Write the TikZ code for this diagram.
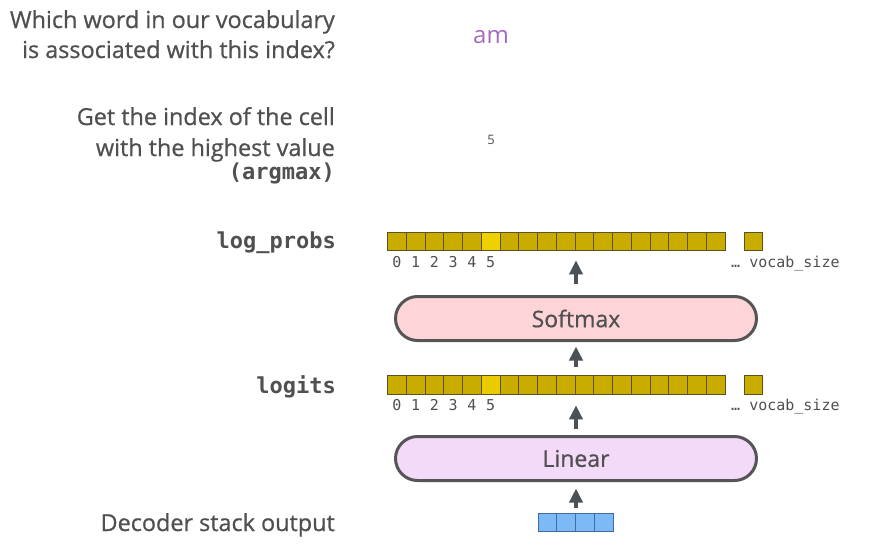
\documentclass[tikz,border=0pt]{standalone}
\usepackage{fontspec}
\setmainfont{Open Sans}
\newfontfamily\semib{Open Sans}[FakeBold=0.7]
\setmonofont{DejaVu Sans Mono}
\usetikzlibrary{arrows.meta}
\definecolor{txt}{HTML}{505050}
\definecolor{amc}{HTML}{A36AC4}
\definecolor{cellfill}{HTML}{C9AC00}
\definecolor{cellhi}{HTML}{EFD000}
\definecolor{cellline}{HTML}{5E5220}
\definecolor{bluefill}{HTML}{7DB9F4}
\definecolor{blueline}{HTML}{3F6E9E}
\definecolor{softfill}{HTML}{FDD5D9}
\definecolor{linfill}{HTML}{F2DAF8}
\definecolor{boxline}{HTML}{555555}
\definecolor{arrc}{HTML}{4B5157}
\tikzset{
  lbl/.style={inner sep=0pt, text=txt, font=\semib\fontsize{23.4}{27}\selectfont},
  monolbl/.style={inner sep=0pt, text=txt, font=\fontsize{22}{26}\selectfont\ttfamily\bfseries},
  digit/.style={inner sep=0pt, text=txt, font=\fontsize{15}{17}\selectfont\ttfamily, anchor=base},
  cell/.style={draw=cellline, fill=cellfill, line width=0.6pt, minimum width=18.75pt, minimum height=18.5pt, inner sep=0pt},
  bcell/.style={draw=blueline, fill=bluefill, line width=0.6pt, minimum width=18.75pt, minimum height=18pt, inner sep=0pt},
  layerbox/.style={draw=boxline, line width=3pt, rounded corners=22pt, minimum width=361pt, minimum height=44pt, inner sep=0pt, text=txt, font=\semib\fontsize{23}{27}\selectfont},
  arr/.style={draw=arrc, line width=4pt, -{Triangle[width=13pt,length=14pt]}}
}
\begin{document}
\begin{tikzpicture}[x=1pt,y=-1pt]
\useasboundingbox (0,0) rectangle (870,547);
\fill[white] (0,0) rectangle (870,547);
% left texts
\node[lbl, anchor=base east] (q1) at (335,28) {Which word in our vocabulary};
\node[lbl, anchor=base east] (q2) at (335,58) {is associated with this index?};
\node[lbl, anchor=base east] (g1) at (335,125) {Get the index of the cell};
\node[lbl, anchor=base east] (g2) at (335,156) {with the highest value};
\node[monolbl, anchor=base east] (g3) at (335,179) {(argmax)};
\node[monolbl, anchor=base east] (lpl) at (336,248) {log\_probs};
\node[monolbl, anchor=base east] (lgl) at (336,393) {logits};
\node[lbl, anchor=base east] (dso) at (335,531) {Decoder stack output};
% right column
\node[inner sep=0pt, text=amc, font=\fontsize{24}{28}\selectfont, anchor=base] (am) at (491,43) {am};
\node[inner sep=0pt, text=txt, font=\fontsize{13}{15}\selectfont, anchor=base] (five) at (491,144) {5};
% log_probs row
\foreach \i in {0,...,17} \node[cell] (lp\i) at ({387.5+18.75*(\i+0.5)},241.25) {};
\node[cell, fill=cellhi] at (lp5) {};
\node[cell] (lpN) at (753.25,241.25) {};
\foreach \i in {0,...,5} \node[digit] (lpd\i) at ({387.5+18.75*(\i+0.5)},267) {\i};
\node[digit, anchor=base west] (lpv) at (731,267) {… vocab\_size};
% logits row
\foreach \i in {0,...,17} \node[cell] (lg\i) at ({387.5+18.75*(\i+0.5)},384.75) {};
\node[cell, fill=cellhi!85!cellfill] at (lg5) {};
\node[cell] (lgN) at (753.25,384.75) {};
\foreach \i in {0,...,5} \node[digit] (lgd\i) at ({387.5+18.75*(\i+0.5)},410.5) {\i};
\node[digit, anchor=base west] (lgv) at (731,410.5) {… vocab\_size};
% boxes
\node[layerbox, fill=softfill] (softmax) at (576,318.5) {Softmax};
\node[layerbox, fill=linfill] (linear) at (576,458.5) {Linear};
% decoder output cells
\foreach \i in {0,...,3} \node[bcell] (b\i) at ({538+18.75*(\i+0.5)},522) {};
% arrows
\draw[arr, shorten <=11.5pt, shorten >=9.5pt] (softmax.north) -- (softmax.north |- lp0.south);
\draw[arr, shorten <=8.5pt, shorten >=4.5pt] (softmax.south |- lg0.north) -- (softmax.south);
\draw[arr, shorten <=6.5pt, shorten >=11pt] (linear.north) -- (linear.north |- lg0.south);
\draw[arr, shorten <=5pt, shorten >=6.5pt] (linear.south |- b0.north) -- (linear.south);
\end{tikzpicture}
\end{document}
